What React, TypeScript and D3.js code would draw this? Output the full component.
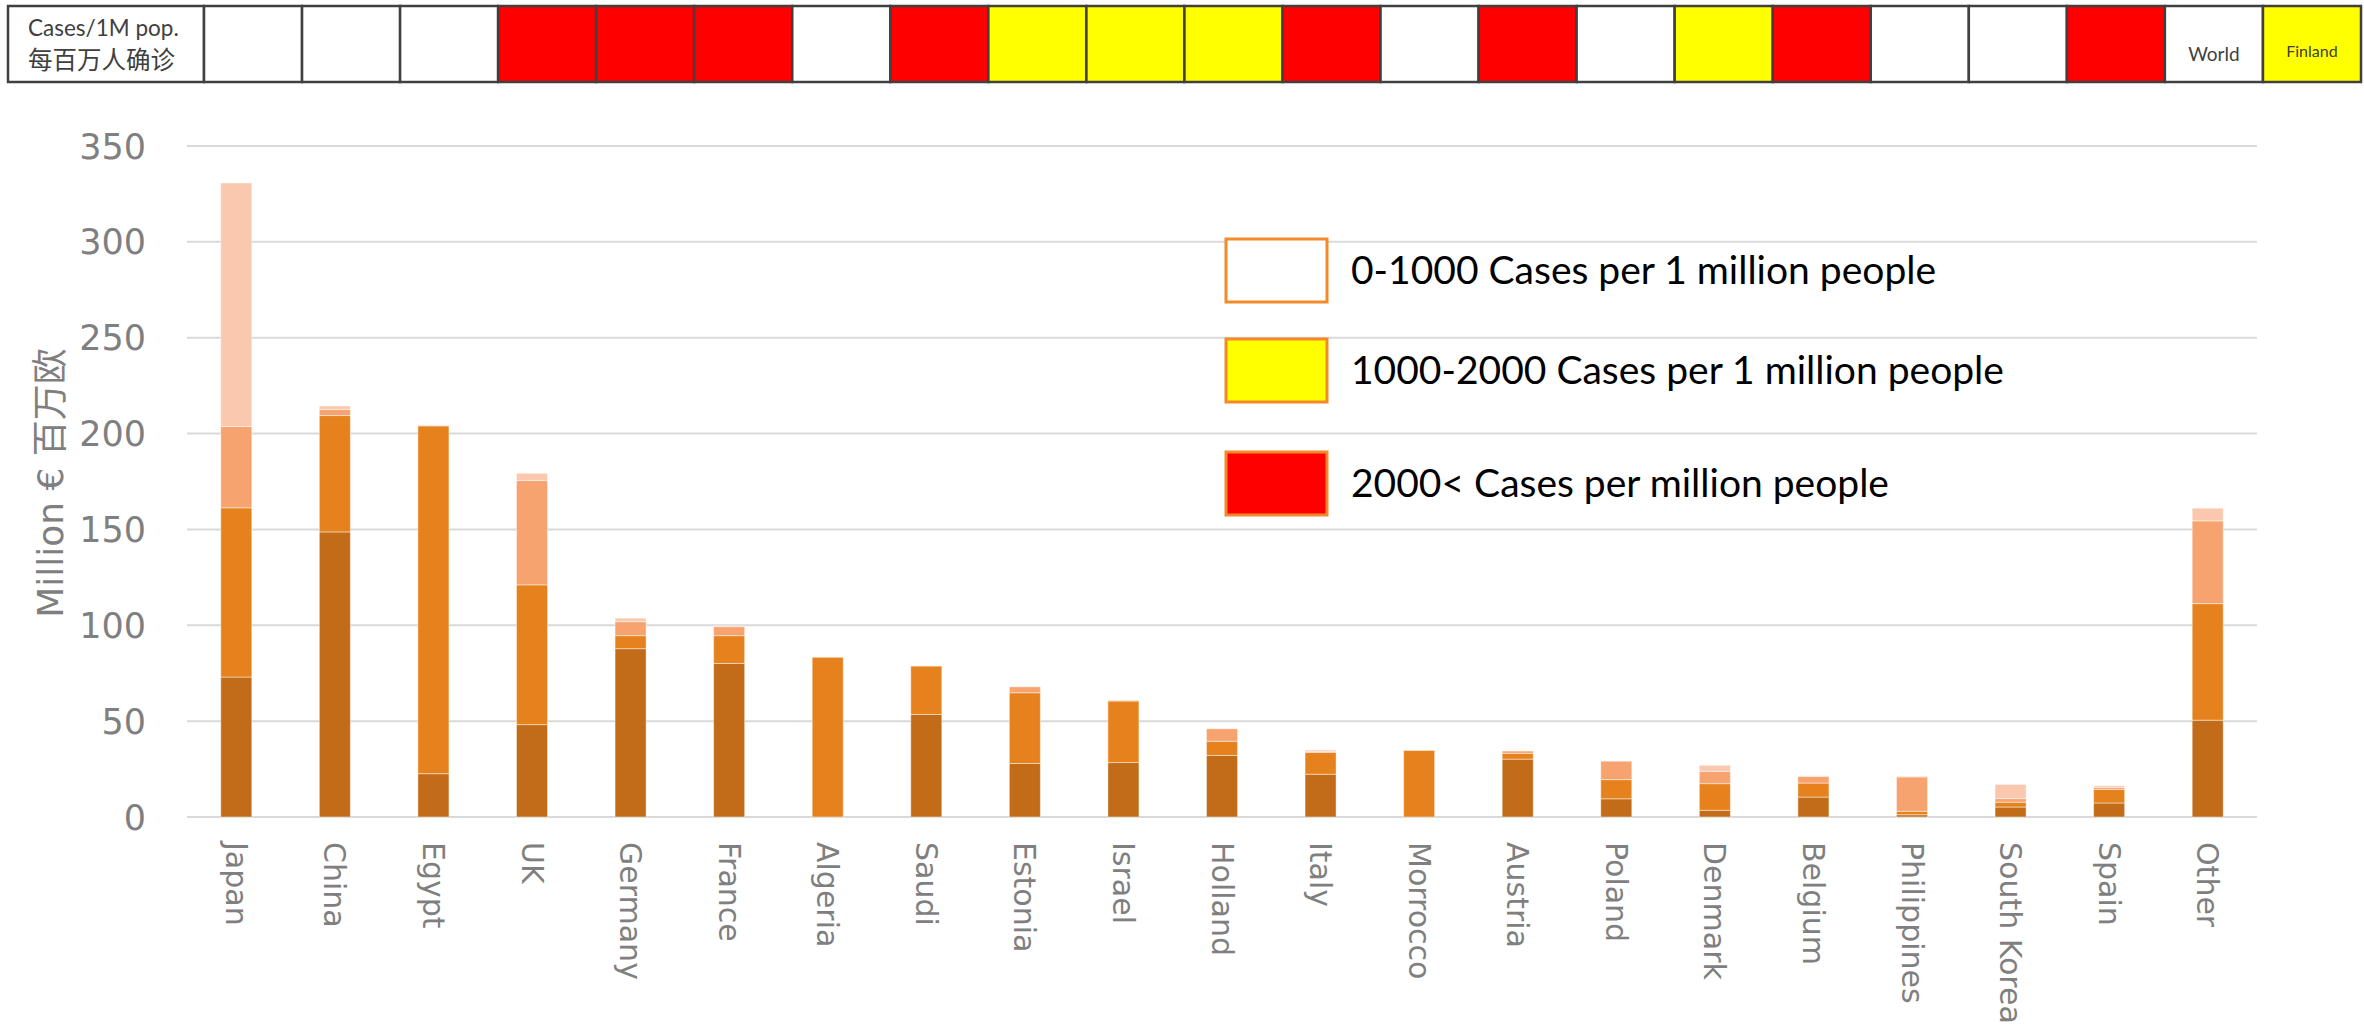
import * as d3 from "d3";

// categories along the x axis
const countries = [
  "Japan", "China", "Egypt", "UK", "Germany", "France", "Algeria", "Saudi",
  "Estonia", "Israel", "Holland", "Italy", "Morrocco", "Austria", "Poland",
  "Denmark", "Belgium", "Philippines", "South Korea", "Spain", "Other",
];

// stacked series, bottom to top (million €)
const seriesDark = [73, 148.7, 22.6, 48.2, 87.8, 80.1, 0, 53.5, 27.9, 28.4, 32.1, 22.3, 0, 30.2, 9.5, 3.5, 10.4, 1.2, 5.2, 7.3, 50.5];
const seriesOrange = [88.3, 60.7, 181.4, 72.9, 6.8, 14.5, 83.3, 25.2, 36.9, 32.1, 7.4, 11.4, 34.7, 3.0, 10.0, 13.9, 7.3, 1.8, 2.5, 7.1, 60.8];
const seriesSalmon = [42.4, 3.2, 0.2, 54.4, 7.3, 4.7, 0, 0, 3.1, 0.3, 6.5, 0.4, 0, 1.2, 9.6, 6.4, 3.5, 17.9, 1.9, 1.1, 43.2];
const seriesPale = [127, 1.8, 0, 3.8, 1.8, 0.4, 0, 0, 0, 0, 0, 0.8, 0, 0, 0, 3.2, 0.3, 0.3, 7.4, 0.8, 6.6];

const yTicks = [0, 50, 100, 150, 200, 250, 300, 350];

// cases per 1M pop. row at the top
const caseLevels = [
  "low", "low", "low", "high", "high", "high", "low", "high", "mid", "mid", "mid",
  "high", "low", "high", "low", "mid", "high", "low", "low", "high", "low", "mid",
];
const headerLabels = ["", "", "", "", "", "", "", "", "", "", "", "", "", "", "", "", "", "", "", "", "World", "Finland"];

const legendItems = [
  { level: "low", text: "0-1000 Cases per 1 million people" },
  { level: "mid", text: "1000-2000 Cases per 1 million people" },
  { level: "high", text: "2000< Cases per million people" },
];

const levelFill: Record<string, string> = { low: "#FFFFFF", mid: "#FFFF00", high: "#FF0000" };
const keys = ["dark", "orange", "salmon", "pale"];
const keyColor: Record<string, string> = {
  dark: "#C26B18",
  orange: "#E6821E",
  salmon: "#F6A36F",
  pale: "#F9C8AE",
};

export default function App() {
  const width = 2364;
  const height = 1030;

  const x = d3.scaleBand<string>()
    .domain(countries)
    .range([187, 2257])
    .paddingInner(0.685)
    .paddingOuter(0.3425);

  const y = d3.scaleLinear().domain([0, 350]).range([817, 146]);

  const rows = countries.map((c, i) => ({
    country: c,
    dark: seriesDark[i],
    orange: seriesOrange[i],
    salmon: seriesSalmon[i],
    pale: seriesPale[i],
  }));
  const stacked = d3.stack<any>().keys(keys)(rows);

  const header = d3.scaleBand<number>()
    .domain(d3.range(caseLevels.length))
    .range([204, 2361]);

  const legendY = [239, 339, 452];

  return (
    <svg width={width} height={height} style={{ position: "absolute", left: 0, top: 0, display: "block", background: "#fff" }}>
      {/* header row */}
      <g>
        <rect x={8} y={6} width={196} height={76} fill="#fff" stroke="#404040" strokeWidth={2.5} />
        <text x={28} y={36} fontFamily="Lato, 'Noto Sans'" fontSize={22.5} fill="#404040">Cases/1M pop.</text>
        <text x={28} y={69} fontFamily="'Noto Sans CJK SC'" fontSize={24.5} fill="#404040">每百万人确诊</text>
        {caseLevels.map((lv, i) => (
          <rect key={i} x={header(i)!} y={6} width={header.bandwidth()} height={76}
            fill={levelFill[lv]} stroke="#404040" strokeWidth={2.5} />
        ))}
        {headerLabels.map((t, i) => t ? (
          <text key={"h" + i} x={header(i)! + header.bandwidth() / 2} y={t === "World" ? 61 : 57}
            textAnchor="middle" fontFamily="Lato, 'Noto Sans'" fontSize={t === "World" ? 19 : 16} fill="#404040">{t}</text>
        ) : null)}
      </g>

      {/* gridlines + y axis */}
      <g>
        {yTicks.map(t => (
          <g key={t}>
            <line x1={187} x2={2257} y1={y(t)} y2={y(t)} stroke="#D9D9D9" strokeWidth={2} />
            <text x={146} y={y(t)} dy="0.36em" textAnchor="end" fontFamily="'DejaVu Sans'" fontSize={35} fill="#7F7F7F">{t}</text>
          </g>
        ))}
        <text transform="translate(63,483) rotate(-90)" textAnchor="middle"
          fontFamily="'DejaVu Sans', 'Noto Sans CJK SC'" fontSize={36} fill="#7F7F7F">Million € 百万欧</text>
      </g>

      {/* stacked bars */}
      <g>
        {stacked.map(s => (
          <g key={s.key} fill={keyColor[s.key]}>
            {s.map((d, i) => d[1] - d[0] > 0 ? (
              <rect key={i} x={x(countries[i])!} y={y(d[1])} width={x.bandwidth()}
                height={y(d[0]) - y(d[1])} stroke="rgba(255,255,255,0.45)" strokeWidth={1} />
            ) : null)}
          </g>
        ))}
      </g>

      {/* x labels */}
      <g>
        {countries.map(c => {
          const cx = x(c)! + x.bandwidth() / 2;
          return (
            <text key={c} transform={`translate(${cx},842) rotate(90)`} dy="0.35em"
              fontFamily="'DejaVu Sans'" fontSize={30} fill="#7F7F7F">{c}</text>
          );
        })}
      </g>

      {/* legend */}
      <g>
        {legendItems.map((it, i) => (
          <g key={it.level}>
            <rect x={1226} y={legendY[i]} width={101} height={63} fill={levelFill[it.level]} stroke="#F4892B" strokeWidth={3} />
            <text x={1351} y={legendY[i] + 31.5} dy="0.35em" fontFamily="Lato, 'Noto Sans'" fontSize={39} fill="#000">{it.text}</text>
          </g>
        ))}
      </g>
    </svg>
  );
}
